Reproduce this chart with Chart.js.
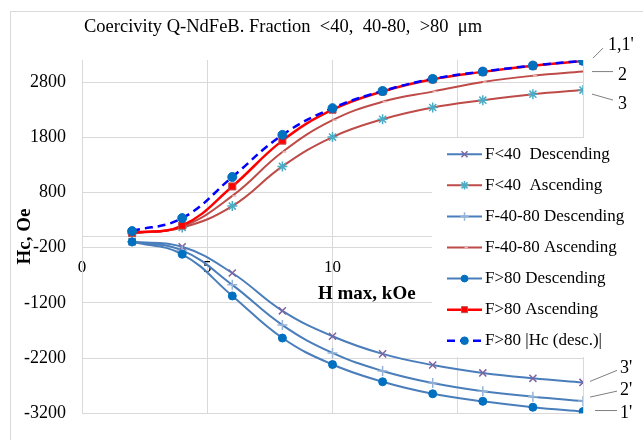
<!DOCTYPE html>
<html>
<head>
<meta charset="utf-8">
<script src="https://cdn.jsdelivr.net/npm/chart.js"></script>
<style>
  html, body { margin: 0; padding: 0; background: #fff; }
  #wrap { width: 643px; height: 440px; }
</style>
</head>
<body>
<div id="wrap"><canvas id="chart" width="643" height="440"></canvas></div>
<script>
// H max, kOe
const H_MAX = [2, 4, 6, 8, 10, 12, 14, 16, 18, 20];

// Hc, Oe
const F40_DESC   = [-95, -185, -660, -1345, -1805, -2125, -2327, -2470, -2568, -2642];
const F40_ASC    = [55, 165, 553, 1272, 1803, 2126, 2339, 2472, 2581, 2655];
const F4080_DESC = [-95, -250, -874, -1603, -2108, -2435, -2654, -2803, -2900, -2981];
const F4080_ASC  = [60, 185, 737, 1532, 2109, 2443, 2627, 2800, 2915, 2990];
const F80_DESC   = [-95, -320, -1075, -1838, -2318, -2630, -2848, -2985, -3092, -3170];
const F80_ASC    = [65, 200, 909, 1739, 2299, 2630, 2850, 2985, 3095, 3180];
const F80_ABS    = [100, 335, 1080, 1843, 2327, 2638, 2857, 2990, 3099, 3186];

const SERIES_NAMES = [
  'F<40  Descending', 'F<40  Ascending', 'F-40-80 Descending', 'F-40-80 Ascending',
  'F>80 Descending', 'F>80 Ascending', 'F>80 |Hc (desc.)|'
];
const CURVE_LABELS = ["3'", '3', "2'", '2', "1'", "1,1'", null];

const Y_TICKS = [-3200, -2200, -1200, -200, 800, 1800, 2800];
const X_TICK_STEP = 5;

const TITLE = 'Coercivity Q-NdFeB. Fraction  <40,  40-80,  >80  \u03bcm';
const X_TITLE = 'H max, kOe';
const Y_TITLE = 'Hc, Oe';

const SERIF = '"Liberation Serif", "Times New Roman", serif';
Chart.defaults.font.family = SERIF;
Chart.defaults.color = '#000';

const BLUE = '#4a7ebb';
const BROWN = '#be4b48';
const GRID = '#d9d9d9';

const pts = ys => H_MAX.map((x, i) => ({ x: x, y: ys[i] }));

const datasets = [
  { data: pts(F40_DESC), borderColor: BLUE, borderWidth: 2, pointStyle: 'crossRot',
    pointRadius: 5, pointBorderColor: '#8064a2', pointBorderWidth: 1.5 },
  { data: pts(F40_ASC), borderColor: BROWN, borderWidth: 2, pointStyle: 'star',
    pointRadius: 5, pointBorderColor: '#4bacc6', pointBorderWidth: 1.5 },
  { data: pts(F4080_DESC), borderColor: BLUE, borderWidth: 2, pointStyle: 'cross',
    pointRadius: 5, pointBorderColor: '#95b3d7', pointBorderWidth: 1.5 },
  { data: pts(F4080_ASC), borderColor: BROWN, borderWidth: 2, pointStyle: 'dash',
    pointRadius: 4, pointBorderColor: '#e6b9b8', pointBorderWidth: 1.5 },
  { data: pts(F80_DESC), borderColor: BLUE, borderWidth: 2, pointStyle: 'circle',
    pointRadius: 4, pointBackgroundColor: '#0070c0', pointBorderColor: '#0070c0', pointBorderWidth: 1 },
  { data: pts(F80_ASC), borderColor: '#ff0000', borderWidth: 2.5, pointStyle: 'rect',
    pointRadius: 5, pointBackgroundColor: '#ff0000', pointBorderColor: '#c0504d', pointBorderWidth: 1 },
  { data: pts(F80_ABS), borderColor: '#0000ff', borderWidth: 2.5, borderDash: [8, 5], pointStyle: 'circle',
    pointRadius: 4.5, pointBackgroundColor: '#0070c0', pointBorderColor: '#0070c0', pointBorderWidth: 1 }
];
datasets.forEach((d, i) => {
  d.label = SERIES_NAMES[i];
  d.tension = 0.42;
  d.fill = false;
  d.order = datasets.length - i; // last series on top, like the original
  if (!d.pointBackgroundColor) d.pointBackgroundColor = d.pointBorderColor;
});

// leader lines + curve numbers, offsets from the last point of each curve
const LABEL_OFFSETS = {
  "1,1'": { line: [10, -3, 20, -13], text: [25, -16] },
  '2':    { line: [9, 0, 30, 0], text: [35, 4] },
  '3':    { line: [9, 4, 30, 10], text: [35, 14] },
  "3'":   { line: [7, -1, 34, -12], text: [37, -14] },
  "2'":   { line: [7, -4, 34, -10], text: [37, -11] },
  "1'":   { line: [12, -1, 34, -1], text: [37, 2] }
};

const frame = {
  id: 'frame',
  beforeDraw(chart) {
    const ctx = chart.ctx;
    ctx.save();
    ctx.fillStyle = '#fff';
    ctx.fillRect(0, 0, chart.width, chart.height);
    ctx.strokeStyle = GRID;
    ctx.lineWidth = 1;
    ctx.strokeRect(10.5, 11.5, chart.width + 10, chart.height + 10);
    ctx.restore();
  }
};

const decorations = {
  id: 'decorations',
  afterDraw(chart) {
    const ctx = chart.ctx;
    ctx.save();

    // chart title
    ctx.fillStyle = '#000';
    ctx.textBaseline = 'middle';
    ctx.textAlign = 'left';
    ctx.font = '18.5px ' + SERIF;
    ctx.fillText(TITLE, 84, 27);

    // x axis title
    ctx.font = 'bold 19px ' + SERIF;
    ctx.fillText(X_TITLE, 318, 294);

    // curve labels
    ctx.font = '18px ' + SERIF;
    chart.data.datasets.forEach((ds, i) => {
      const name = CURVE_LABELS[i];
      if (!name) return;
      const meta = chart.getDatasetMeta(i);
      const last = meta.data[meta.data.length - 1];
      const o = LABEL_OFFSETS[name];
      ctx.strokeStyle = '#7f7f7f';
      ctx.lineWidth = 1;
      ctx.beginPath();
      ctx.moveTo(last.x + o.line[0], last.y + o.line[1]);
      ctx.lineTo(last.x + o.line[2], last.y + o.line[3]);
      ctx.stroke();
      ctx.fillText(name, last.x + o.text[0], last.y + o.text[1]);
    });

    // legend box over the plot
    const lx = 432, ly = 138, lw = 201, lh = 219;
    ctx.fillStyle = '#fff';
    ctx.fillRect(lx, ly, lw, lh);
    const rowH = 31.07;
    chart.data.datasets.forEach((ds, i) => {
      const y = 154.3 + i * rowH;
      ctx.strokeStyle = ds.borderColor;
      ctx.lineWidth = ds.borderWidth;
      ctx.setLineDash(ds.borderDash || []);
      ctx.beginPath();
      ctx.moveTo(447, y);
      ctx.lineTo(482, y);
      ctx.stroke();
      ctx.setLineDash([]);
      ctx.fillStyle = ds.pointBackgroundColor;
      ctx.strokeStyle = ds.pointBorderColor;
      ctx.lineWidth = ds.pointBorderWidth;
      Chart.helpers.drawPoint(ctx, {
        pointStyle: ds.pointStyle, radius: ds.pointRadius * 0.85,
        rotation: 0, borderWidth: ds.pointBorderWidth
      }, 464.5, y);
      ctx.fillStyle = '#000';
      ctx.font = '17px ' + SERIF;
      ctx.fillText(ds.label, 485, y);
    });

    ctx.restore();
  }
};

new Chart(document.getElementById('chart'), {
  type: 'line',
  data: { datasets: datasets },
  plugins: [frame, decorations],
  options: {
    responsive: false,
    animation: false,
    devicePixelRatio: 1,
    layout: { padding: { left: 0, right: 60, top: 60, bottom: 8 } },
    plugins: { legend: { display: false }, tooltip: { enabled: false }, title: { display: false } },
    scales: {
      x: {
        type: 'linear',
        position: { y: 0 },
        min: 0,
        max: 20,
        ticks: { stepSize: X_TICK_STEP, padding: 21, font: { size: 17 }, color: '#000', maxRotation: 0 },
        grid: { color: GRID, drawTicks: false },
        border: { color: GRID },
        afterFit: s => { s.height = 0; }
      },
      y: {
        type: 'linear',
        min: -3200,
        max: 3200,
        afterBuildTicks: s => { s.ticks = Y_TICKS.map(v => ({ value: v })); },
        ticks: { padding: 16, font: { size: 18 }, color: '#000', callback: v => String(v) },
        grid: { color: GRID, drawTicks: false },
        border: { color: GRID },
        title: { display: true, text: Y_TITLE, font: { size: 19, weight: 'bold' }, color: '#000', padding: { top: 14 } },
        afterFit: s => { s.width = 82; }
      }
    }
  }
});
</script>
</body>
</html>
